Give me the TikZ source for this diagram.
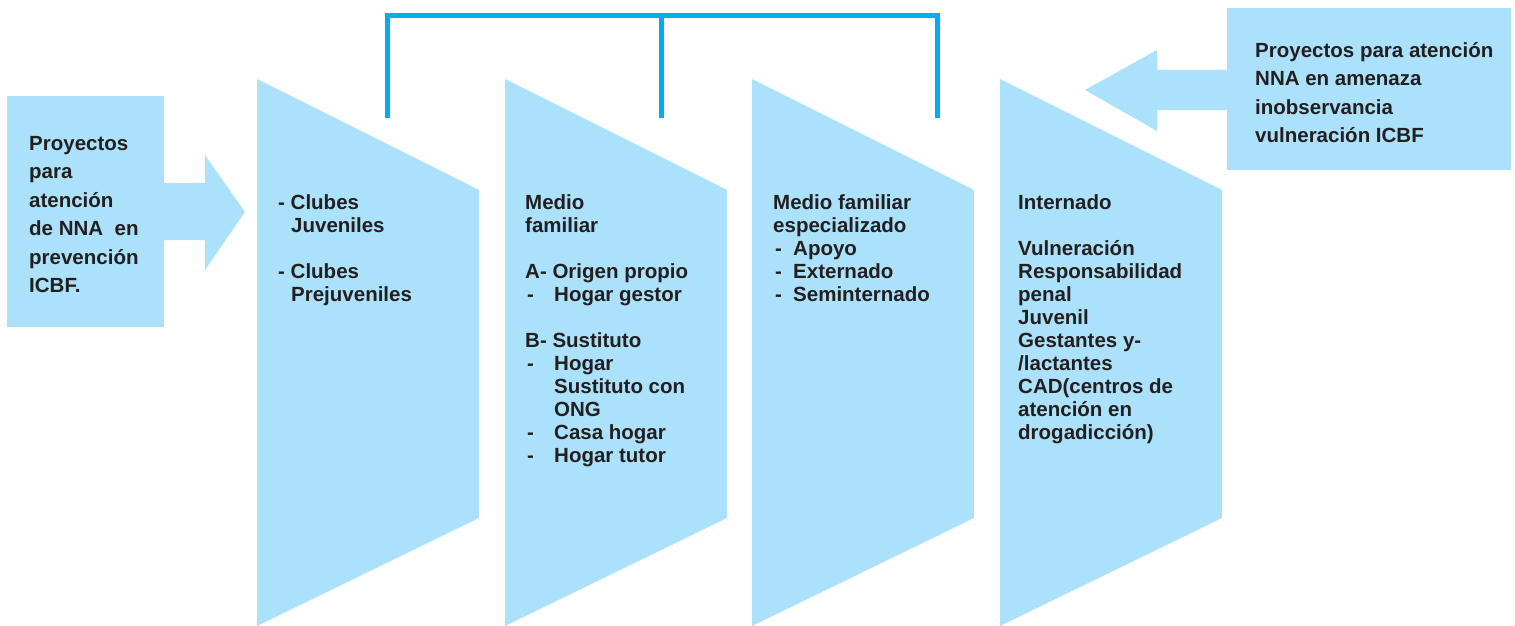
\documentclass[tikz,border=0pt]{standalone}
\usepackage{fontspec}
\setmainfont{Liberation Sans}
\definecolor{boxblue}{RGB}{171,225,250}
\definecolor{linkblue}{RGB}{0,174,239}
\definecolor{ink}{RGB}{35,31,32}
\tikzset{
  panel/.style={fill=boxblue},
  txt/.style={anchor=north west, inner sep=0pt, align=left, text=ink,
    font=\bfseries\fontsize{20.5}{23}\selectfont,
    execute at begin node={\rule{0pt}{16pt}}},
  boxtxt/.style={txt, font=\bfseries\fontsize{20.5}{28.5}\selectfont},
  link/.style={draw=linkblue, line width=5pt}
}
\newcommand{\dsh}[1][29pt]{\makebox[#1][l]{\hspace{2pt}-}}
\begin{document}
\begin{tikzpicture}[x=1pt, y=-1pt]
  \useasboundingbox (0,0) rectangle (1515,626);
  % side boxes and arrows
  \fill[panel] (7,96) rectangle (164,327);
  \fill[panel] (160,183) -- (205,183) -- (205,155) -- (245,212) -- (205,270) -- (205,240) -- (160,240) -- cycle;
  \fill[panel] (1227,8) rectangle (1511,170);
  \fill[panel] (1231,70) -- (1157,70) -- (1157,50) -- (1085,90) -- (1157,131) -- (1157,110) -- (1231,110) -- cycle;
  % stages
  \foreach \x in {257,505,752,1000}
    \fill[panel] (\x,79) -- ++(222,111) -- ++(0,328) -- (\x,626) -- cycle;
  % bracket
  \coordinate (b1) at (387,118);
  \coordinate (b2) at (661,118);
  \coordinate (b3) at (937,118);
  \coordinate (top) at (661,16);
  \draw[link] (b1) |- (top) -| (b3);
  \draw[link] (b2) -- (top);
  % texts
  \node[boxtxt] (prev) at (29,136) {Proyectos\\para\\atención\\de NNA\ \ en\\prevención\\ICBF.};
  \node[boxtxt] (amen) at (1255,42) {Proyectos para atención\\NNA en amenaza\\inobservancia\\vulneración ICBF};
  \node[txt] (clubes) at (278,194) {- Clubes\\\hspace*{13pt}Juveniles\\[23pt]- Clubes\\\hspace*{13pt}Prejuveniles};
  \node[txt] (medio) at (525,194) {Medio\\familiar\\[23pt]A- Origen propio\\\dsh Hogar gestor\\[23pt]B- Sustituto\\\dsh Hogar\\\hspace*{29pt}Sustituto con\\\hspace*{29pt}ONG\\\dsh Casa hogar\\\dsh Hogar tutor};
  \node[txt] (espec) at (773,194) {Medio familiar\\especializado\\\dsh[20pt]Apoyo\\\dsh[20pt]Externado\\\dsh[20pt]Seminternado};
  \node[txt] (intern) at (1018,194) {Internado\\[23pt]Vulneración\\Responsabilidad\\penal\\Juvenil\\Gestantes y-\\/lactantes\\CAD(centros de\\atención en\\drogadicción)};
\end{tikzpicture}
\end{document}
